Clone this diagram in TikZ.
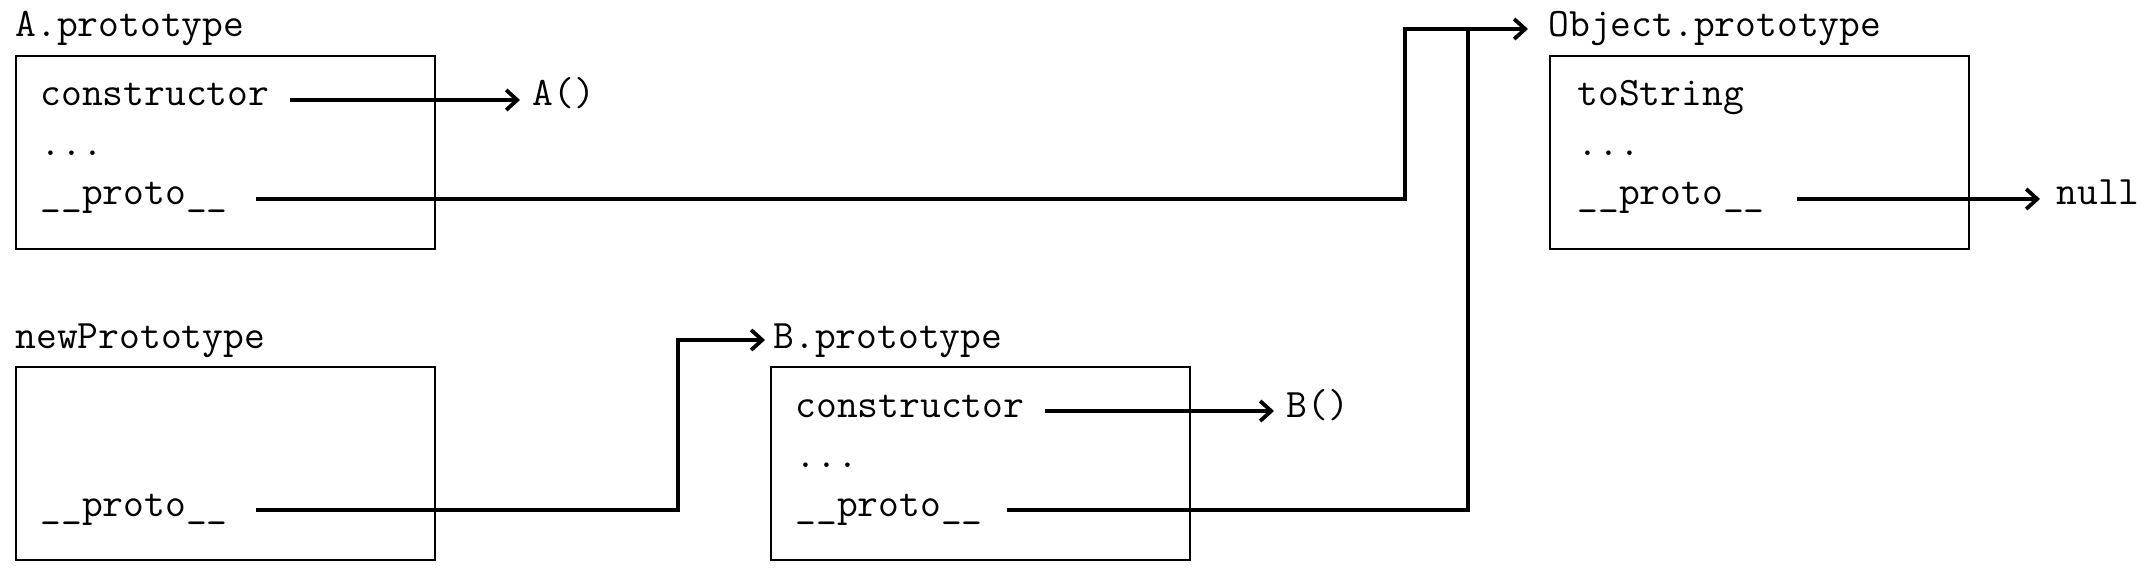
\documentclass[tikz,border=0pt]{standalone}
\usepackage{fontspec}
\usetikzlibrary{arrows.meta,calc}
\begin{document}
\begin{tikzpicture}[x=0.5pt,y=-0.5pt,
  txt/.style={anchor=base west, inner sep=0pt, font=\ttfamily\fontsize{20.2}{22}\selectfont},
  objbox/.style={draw, line width=1.2pt, anchor=north west, minimum width=209.5pt, minimum height=96.5pt, inner sep=0pt},
  conn/.style={line width=1.9pt},
  arr/.style={conn, -{Straight Barb[length=5.5pt,width=10pt,line width=1.9pt]}}]
\useasboundingbox (0,0) rectangle (2152,572);
% A.prototype
\node[txt] (lblA) at (15,37) {A.prototype};
\node[objbox] (boxA) at (15,55) {};
\node[txt] (ctorA) at (40,106) {constructor};
\node[txt] (dotsA) at (40,156) {...};
\node[txt] (protoA) at (40,205) {\_\_proto\_\_};
\node[txt] (fnA) at (532,106) {A()};
% Object.prototype
\node[txt] (lblO) at (1548,37) {Object.prototype};
\node[objbox] (boxO) at (1549,55) {};
\node[txt] (strO) at (1577,106) {toString};
\node[txt] (dotsO) at (1577,156) {...};
\node[txt] (protoO) at (1577,205) {\_\_proto\_\_};
\node[txt] (nullO) at (2056,205) {null};
% newPrototype
\node[txt] (lblN) at (15,348) {newPrototype};
\node[objbox] (boxN) at (15,366) {};
\node[txt] (protoN) at (40,516) {\_\_proto\_\_};
% B.prototype
\node[txt] (lblB) at (773,348) {B.prototype};
\node[objbox] (boxB) at (770,366) {};
\node[txt] (ctorB) at (795,417) {constructor};
\node[txt] (dotsB) at (795,467) {...};
\node[txt] (protoB) at (795,516) {\_\_proto\_\_};
\node[txt] (fnB) at (1286,417) {B()};
% junctions
\coordinate (jA) at (1405,0);
\coordinate (jB) at (1468,0);
\coordinate (jN) at (678,0);
\coordinate (inO) at ([xshift=-10pt,yshift=4pt]lblO.base west);
\coordinate (inB) at ([xshift=-4pt,yshift=4pt]lblB.base west);
% connectors
\draw[arr] ([xshift=10pt,yshift=3pt]ctorA.base east) -- ([xshift=-6pt,yshift=3pt]fnA.base west);
\draw[arr] ([xshift=14pt,yshift=3pt]protoA.base east) -| (jA |- inO) -- (inO);
\draw[conn] ([xshift=12pt,yshift=3pt]protoB.base east) -| (jB |- inO);
\draw[arr] ([xshift=16pt,yshift=3pt]protoO.base east) -- ([xshift=-8pt,yshift=3pt]nullO.base west);
\draw[arr] ([xshift=14pt,yshift=3pt]protoN.base east) -| (jN |- inB) -- (inB);
\draw[arr] ([xshift=10pt,yshift=3pt]ctorB.base east) -- ([xshift=-6pt,yshift=3pt]fnB.base west);
\end{tikzpicture}
\end{document}
